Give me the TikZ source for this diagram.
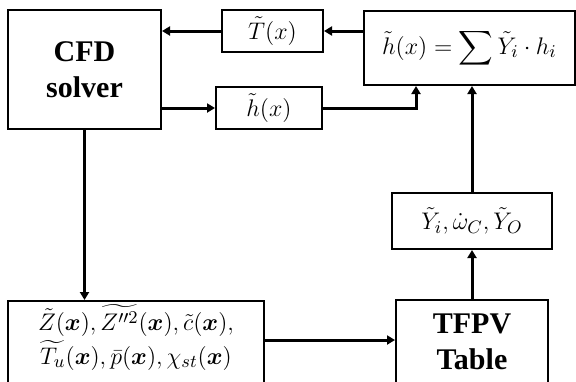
\documentclass[tikz,border=0pt]{standalone}
\usepackage{amsmath}
\usepackage{bm}
\usepackage{fontspec}
\setmainfont{Liberation Serif}
\usetikzlibrary{arrows.meta,positioning,calc}
\tikzset{
  blk/.style={rectangle, draw=black, line width=1pt, fill=white,
    align=center, inner sep=1pt,
    font=\fontsize{15}{18}\selectfont\bfseries},
  mathblk/.style={rectangle, draw=black, line width=1pt, fill=white,
    align=center, inner sep=1pt,
    font=\fontsize{13}{17}\selectfont},
  arr/.style={-{Triangle[length=4pt,width=4.5pt]}, line width=1.5pt, color=black}
}

\begin{document}
\begin{tikzpicture}[x=0.5pt, y=-0.5pt]
\useasboundingbox (0,0) rectangle (576,381);
\clip (0,0) rectangle (576,381);

%% ── TOP ROW ─────────────────────────────────────────────────────────
\node[blk, minimum width=76.5pt, minimum height=59.5pt] at (84.5,69.5) (cfd) {CFD\\solver};
\node[mathblk, minimum width=50.5pt, minimum height=21pt] at (272.5,31) (tval) {$\tilde{T}(x)$};
\node[mathblk, minimum width=53pt, minimum height=21pt] at (269,108) (hval) {$\tilde{h}(x)$};
\node[mathblk, minimum width=105.5pt, minimum height=37pt] at (469.5,48) (hsum)
  {$\displaystyle \tilde{h}(x) = \sum \tilde{Y}_i \cdot h_i$};

%% ── RIGHT COLUMN ────────────────────────────────────────────────────
\node[mathblk, minimum width=80pt, minimum height=28pt] at (472,221) (yval)
  {$\tilde{Y}_i,\dot{\omega}_C,\tilde{Y}_O$};
\node[blk, minimum width=76pt, inner ysep=7pt, text depth=40pt, anchor=north] at (472,299) (tfpv)
  {TFPV\\Table};

%% ── BOTTOM LEFT ─────────────────────────────────────────────────────
\node[mathblk, minimum width=128pt, inner ysep=1.5pt, text depth=40pt, anchor=north] at (136,300) (vars)
  {$\tilde{Z}(\bm{x}), \widetilde{Z''^2}(\bm{x}), \tilde{c}(\bm{x}),$\\
   $\widetilde{T_u}(\bm{x}), \bar{p}(\bm{x}), \chi_{st}(\bm{x})$};

%% ── ARROWS ──────────────────────────────────────────────────────────
\draw[arr] (tval.east -| hsum.west) -- (tval.east);
\draw[arr] (tval.west) -- (tval.west -| cfd.east);
\draw[arr] (hval.west -| cfd.east) -- (hval.west);
\draw[arr] (hval.east) -| ([xshift=26.5pt]hsum.south west);

\draw[arr] (yval.north) -- (yval.north |- hsum.south);
\draw[arr] (tfpv.north) -- (tfpv.north |- yval.south);

\draw[arr] (cfd.south) -- (cfd.south |- vars.north);
\draw[arr] ([yshift=-20pt]vars.north east) -- ([yshift=-20pt]vars.north east -| tfpv.west);

\end{tikzpicture}
\end{document}
